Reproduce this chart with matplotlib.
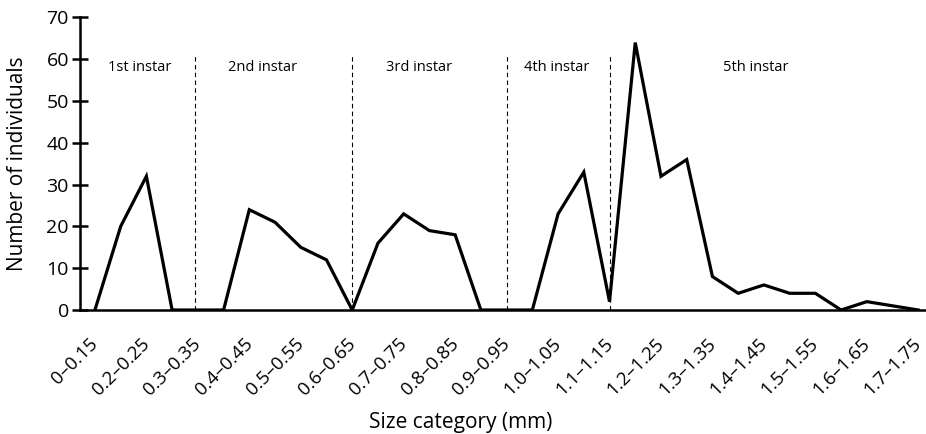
import numpy as np
import matplotlib.pyplot as plt
import matplotlib.transforms as mtransforms

plt.rcParams['font.family'] = ['Open Sans', 'DejaVu Sans']

lows = ['0', '0.15', '0.2', '0.25', '0.3', '0.35', '0.4', '0.45', '0.5', '0.55',
        '0.6', '0.65', '0.7', '0.75', '0.8', '0.85', '0.9', '0.95', '1.0', '1.05',
        '1.1', '1.15', '1.2', '1.25', '1.3', '1.35', '1.4', '1.45', '1.5', '1.55',
        '1.6', '1.65', '1.7']
highs = ['0.15', '0.2', '0.25', '0.3', '0.35', '0.4', '0.45', '0.5', '0.55', '0.6',
         '0.65', '0.7', '0.75', '0.8', '0.85', '0.9', '0.95', '1.0', '1.05', '1.1',
         '1.15', '1.2', '1.25', '1.3', '1.35', '1.4', '1.45', '1.5', '1.55', '1.6',
         '1.65', '1.7', '1.75']
categories = [a + '\u2013' + b for a, b in zip(lows, highs)]
counts = [0, 20, 32, 0, 0, 0, 24, 21, 15, 12, 0, 16, 23, 19, 18, 0, 0, 0,
          23, 33, 2, 64, 32, 36, 8, 4, 6, 4, 4, 0, 2, 1, 0]

instar_names = ['1st instar', '2nd instar', '3rd instar', '4th instar', '5th instar']
instar_label_x = [1.75, 6.5, 12.6, 17.95, 25.7]
boundaries = [3.9, 10, 16, 20]

fig = plt.figure(figsize=(9.26, 4.34), dpi=100)
ax = fig.add_axes([0.0864, 0.2857, 0.9136, 0.674])

x = np.arange(len(categories))
ax.plot(x, counts, color='black', lw=2.3, solid_joinstyle='miter')

for b in boundaries:
    ax.plot([b, b], [0, 61], color='black', lw=0.8, ls=(0, (4, 3)))
for name, lx in zip(instar_names, instar_label_x):
    ax.text(lx, 58, name, ha='center', va='center', fontsize=10.5)

ax.set_xlim(-0.58, 32.3)
ax.set_ylim(0, 70)
ax.set_yticks(range(0, 71, 10))
ax.tick_params(axis='y', direction='inout', length=12, width=1.8, labelsize=14, pad=2)
ax.set_xticks(x[::2])
ax.set_xticklabels(categories[::2], rotation=45, ha='right', va='top',
                   rotation_mode='anchor', fontsize=13.5)
ax.tick_params(axis='x', length=0, pad=18)
shift = mtransforms.ScaledTranslation(-6 / 100, 0, fig.dpi_scale_trans)
for lbl in ax.get_xticklabels():
    lbl.set_transform(lbl.get_transform() + shift)

for s in ['top', 'right']:
    ax.spines[s].set_visible(False)
for s in ['left', 'bottom']:
    ax.spines[s].set_linewidth(1.8)

ax.set_ylabel('Number of individuals', fontsize=15)
ax.yaxis.set_label_coords(-0.062, 0.5)
ax.set_xlabel('Size category (mm)', fontsize=15)
ax.xaxis.set_label_coords(0.45, -0.35)

fig.savefig('out.png', dpi=100)
